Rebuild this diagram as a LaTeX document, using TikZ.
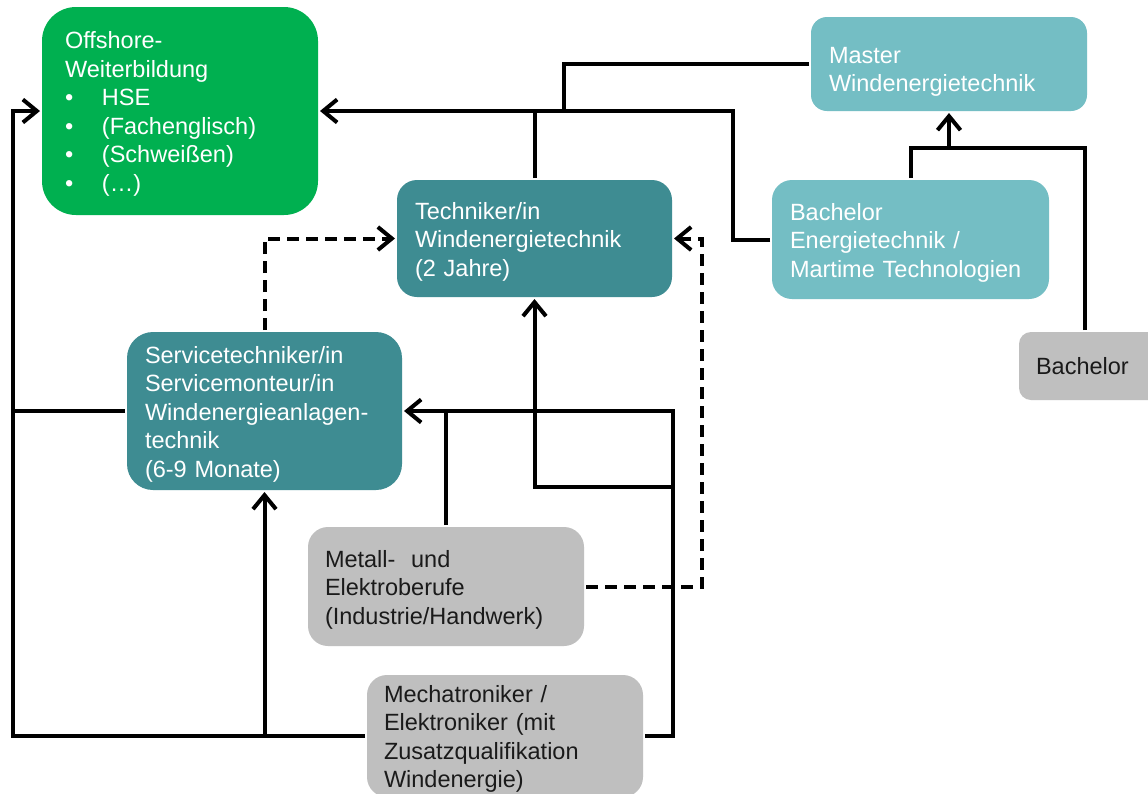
\documentclass[tikz,border=0pt]{standalone}
\usepackage{fontspec}
\setmainfont{Liberation Sans}
\usetikzlibrary{arrows.meta,calc}
\definecolor{cgreen}{HTML}{00B050}
\definecolor{cteal}{HTML}{3E8C92}
\definecolor{clight}{HTML}{74BEC4}
\definecolor{cgrey}{HTML}{BFBFBF}
\definecolor{cdark}{HTML}{1A1A1A}
\tikzset{
  rbox/.style={rectangle, rounded corners=#1, inner xsep=18pt, inner ysep=0pt,
    align=left, font=\fontsize{23.5}{28.5}\selectfont,
    execute at end node={\par\vspace{-6pt}}},
  arr/.style={-{Straight Barb[length=14pt,width=23pt]}},
  dsh/.style={dash pattern=on 12pt off 7pt}
}
\newcommand{\bitem}{\makebox[37pt][l]{\textbullet}}
\begin{document}
\begin{tikzpicture}[x=1pt,y=-1pt,line width=4pt]
\path[fill=white] (0,0) rectangle (1148,793);
\useasboundingbox (0,0) rectangle (1148,793);

% boxes
\node[rbox=34pt, fill=cgreen, text=white, inner xsep=23pt, minimum width=276pt,
  minimum height=208pt, text width=230pt] (off) at (180,111)
  {Offshore-\\Weiterbildung\\\bitem HSE\\\bitem (Fachenglisch)\\\bitem (Schwei\ss en)\\\bitem (\dots)};
\node[rbox=16pt, fill=clight, text=white, minimum width=276pt, minimum height=94pt,
  text width=240pt, execute at end node={\par\vspace{-10pt}}] (master) at (949,64) {Master\\Windenergietechnik};
\node[rbox=20pt, fill=cteal, text=white, minimum width=275pt, minimum height=117pt,
  text width=239pt] (tech) at (534.5,238.5) {Techniker/in\\Windenergietechnik\\(2 Jahre)};
\node[rbox=20pt, fill=clight, text=white, minimum width=277pt, minimum height=119pt,
  text width=241pt] (bach) at (910.5,239.5) {Bachelor\\Energietechnik /\\Martime Technologien};
\node[rbox=12pt, fill=cgrey, text=cdark, inner xsep=17pt, minimum width=275pt, minimum height=68pt,
  text width=241pt, execute at end node={}] (bgrey) at (1156.5,366) {Bachelor};
\node[rbox=26pt, fill=cteal, text=white, minimum width=275pt, minimum height=158pt,
  text width=239pt] (serv) at (264.5,411)
  {Servicetechniker/in\\Servicemonteur/in\\Windenergieanlagen-\\technik\\(6-9 Monate)};
\node[rbox=20pt, fill=cgrey, text=cdark, inner xsep=17pt, minimum width=276pt, minimum height=119pt,
  text width=242pt] (metall) at (446,586.5) {Metall-\ \ und\\Elektroberufe\\(Industrie/Handwerk)};
\node[rbox=20pt, fill=cgrey, text=cdark, inner xsep=17pt, minimum width=276pt, minimum height=122pt,
  text width=242pt] (mecha) at (505,736)
  {Mechatroniker /\\Elektroniker (mit\\Zusatzqualifikation\\Windenergie)};

% junction coordinates
\coordinate (lb) at (13,736);
\coordinate (lt) at (13,111);
\coordinate (rr) at (673,411);
\coordinate (rm) at (673,487);
\coordinate (dr) at (702,586.5);
\coordinate (bj) at (733,111);
\coordinate (mj) at (564,111);
\coordinate (mb) at (949,148);

% connectors
\draw[arr] (mecha.west) -- (lb) -- (lt) -- (off.west);
\draw (serv.west) -- (serv.west -| lb);
\draw[arr] (serv.south |- lb) -- (serv.south);
\draw[arr] (mecha.east) -| (rr) -- (serv.east);
\draw (metall.north) -- (metall.north |- serv.east);
\draw[arr] (rm) -| (tech.south);
\draw[arr,dsh] (serv.north) |- (tech.west);
\draw[arr,dsh] (metall.east) -- (dr) |- (tech.east);
\draw (tech.north) -- (tech.north |- off.east);
\draw[arr] (bach.west) -| (bj) -- (off.east);
\draw (master.west) -| (mj);
\draw[arr] (bach.north) |- (mb) -- (master.south);
\draw ($(bgrey.north west)+(68,0)$) |- (mb);
\end{tikzpicture}
\end{document}
